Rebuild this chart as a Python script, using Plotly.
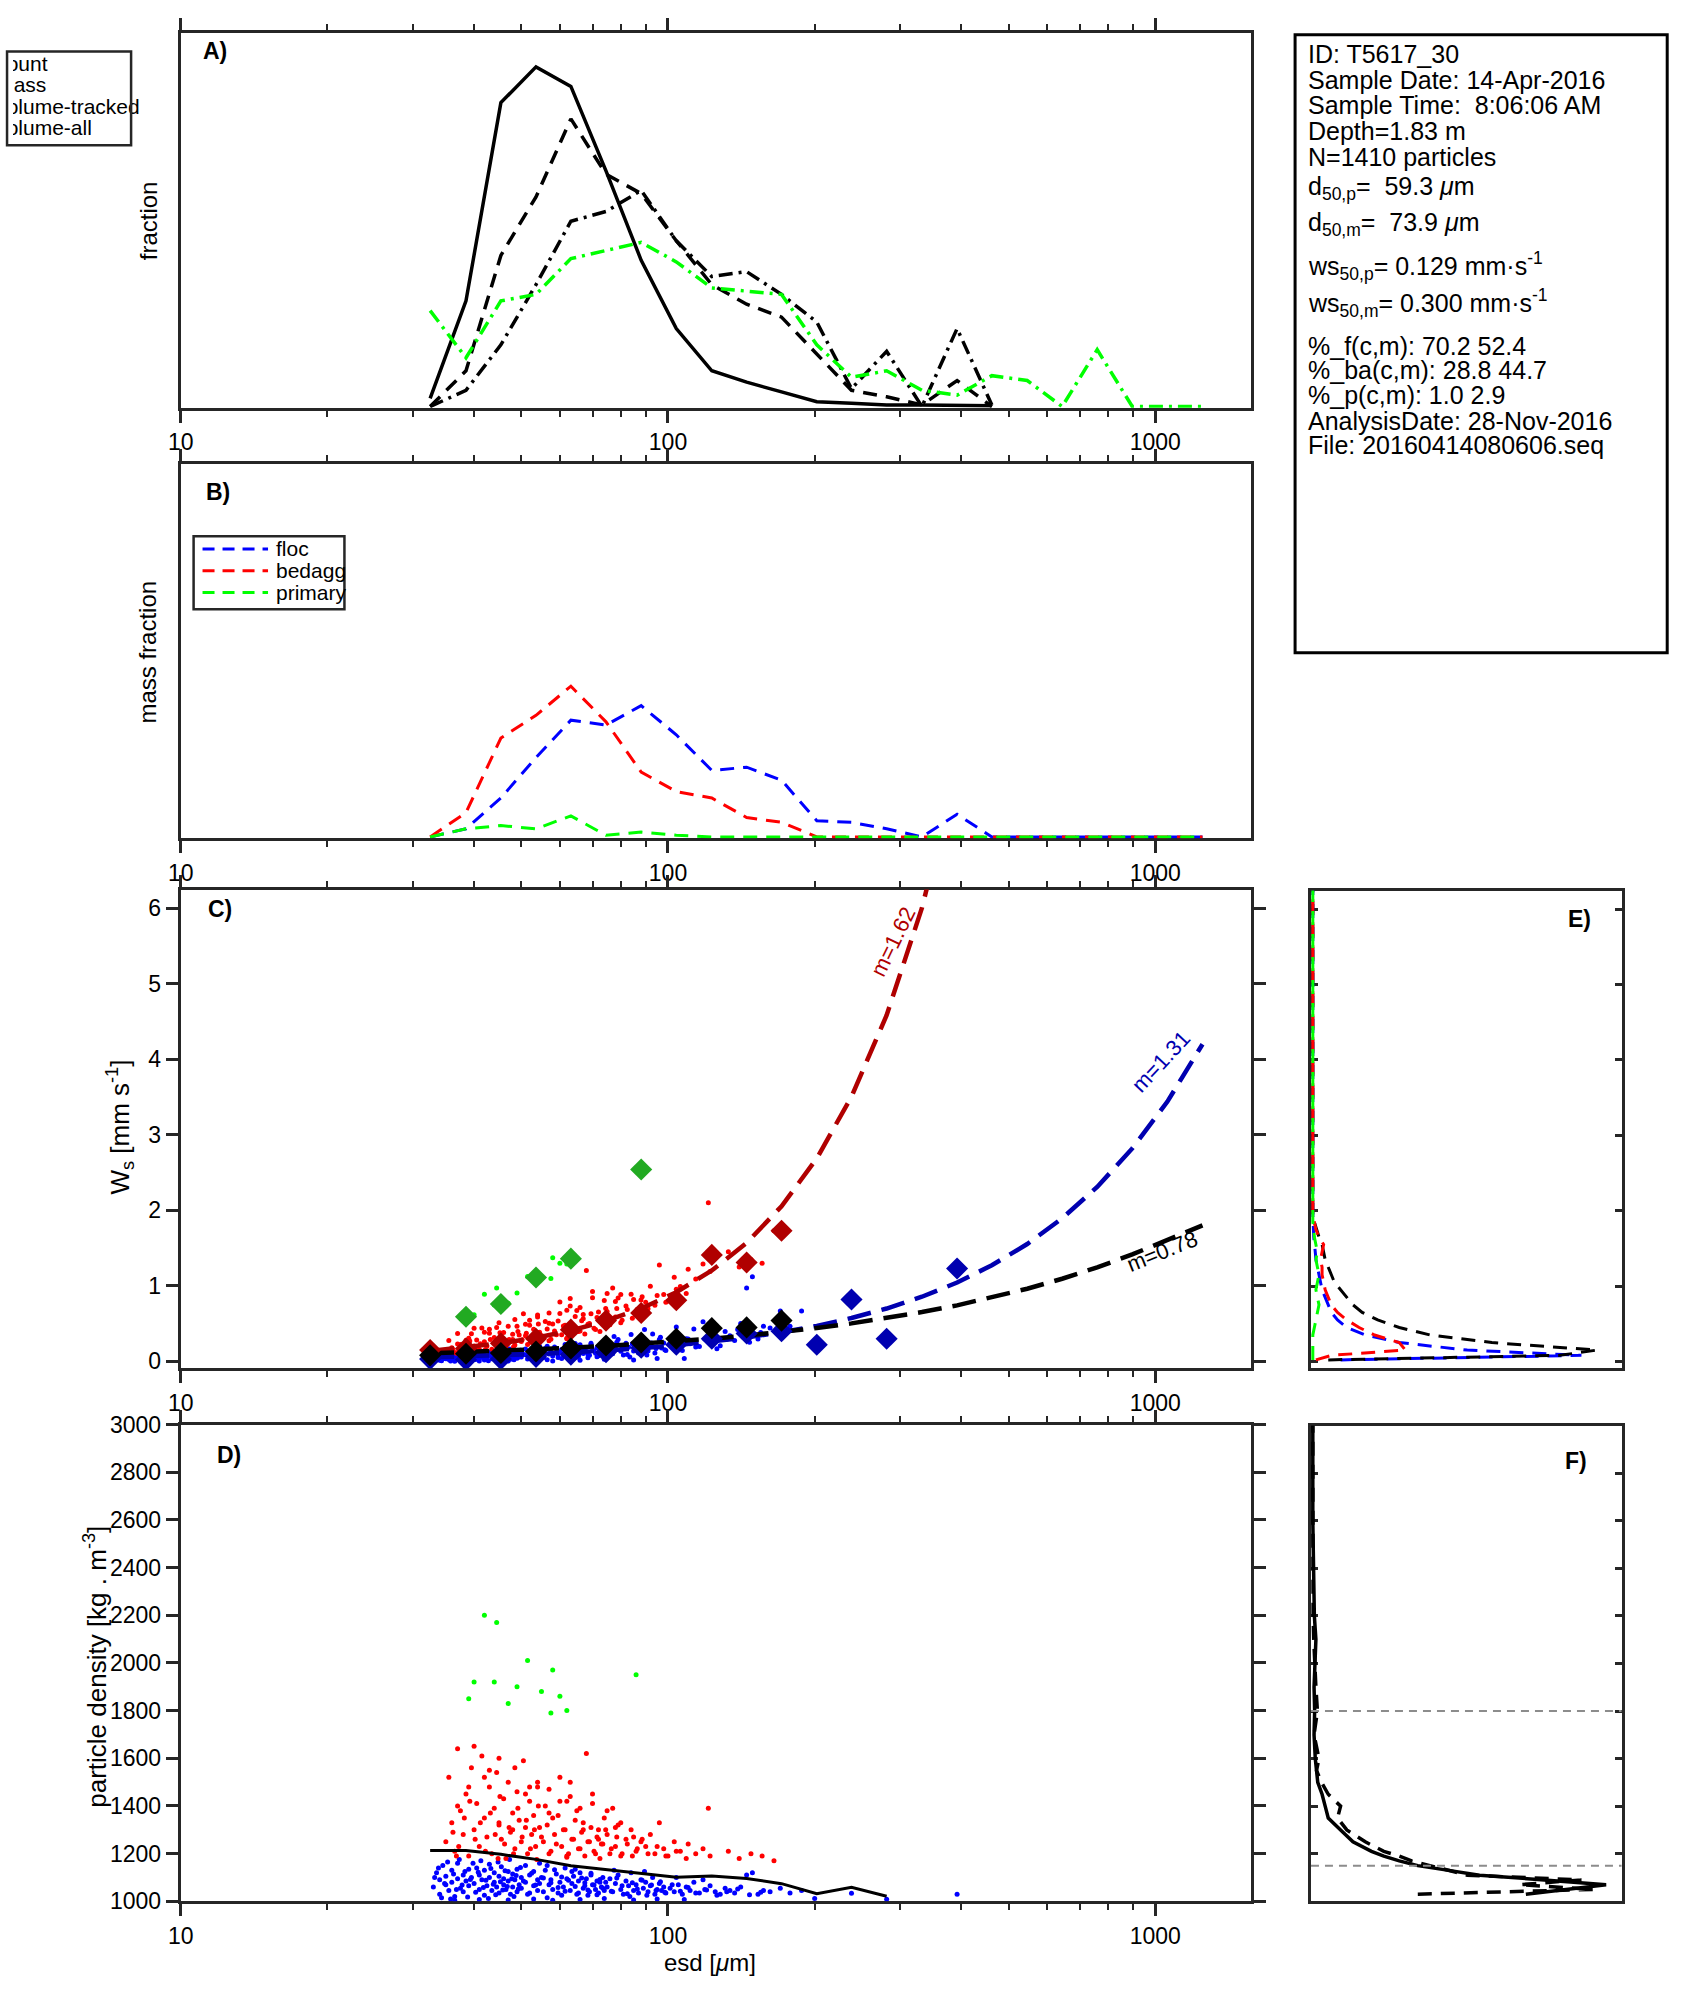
import plotly.graph_objects as go

W, H = 1694, 2015
AX = "#262626"
FONT = "Liberation Sans, Arial, Helvetica, sans-serif"

# ---------------- data ----------------
# size-bin centres (esd, um)
bin_esd = [32.5, 38.5, 45.4, 53.6, 63.2, 74.6, 88.1, 104, 123, 145, 171, 202, 238,
           281, 332, 392, 462, 546, 644, 760, 897, 1059, 1250]

# A) fractions
frac_count = [0.005, 0.065, 0.187, 0.209, 0.197, 0.145, 0.090, 0.048, 0.022, 0.015,
              0.009, 0.003, 0.002, 0.001, 0.001, 0.001, 0.0005]
frac_mass = [0, 0.022, 0.093, 0.129, 0.177, 0.143, 0.131, 0.102, 0.075, 0.063, 0.055,
             0.032, 0.010, 0.006, 0.001, 0.016, 0]
frac_vol_tracked = [0, 0.010, 0.038, 0.075, 0.114, 0.120, 0.133, 0.102, 0.080, 0.083,
                    0.069, 0.052, 0.011, 0.034, 0, 0.048, 0.001]
frac_vol_all = [0.059, 0.030, 0.065, 0.069, 0.091, 0.096, 0.101, 0.089, 0.073, 0.071,
                0.069, 0.038, 0.018, 0.022, 0.010, 0.007, 0.019, 0.016, 0, 0.035, 0, 0, 0]

# B) mass fraction per class
mass_floc = [0, 0.005, 0.024, 0.049, 0.072, 0.069, 0.081, 0.063, 0.041, 0.043, 0.035,
             0.010, 0.009, 0.005, 0, 0.014, 0, 0, 0, 0, 0, 0, 0]
mass_bedagg = [0, 0.015, 0.061, 0.075, 0.093, 0.071, 0.040, 0.028, 0.024, 0.012, 0.009,
               0, 0, 0, 0, 0, 0, 0, 0, 0, 0, 0, 0]
mass_primary = [0, 0.005, 0.007, 0.005, 0.013, 0.001, 0.003, 0.001, 0, 0, 0, 0, 0, 0,
                0, 0, 0, 0, 0, 0, 0, 0, 0]

# particles: floc (blue)
floc_esd = [33, 33.5, 34, 34, 34.5, 35, 35, 35.5, 36, 36, 36.5, 37, 37, 37.5, 38, 38, 38.5, 39, 39, 39.5,
            40, 40.5, 41, 41, 41.5, 42, 42, 42.5, 43, 43, 43.5, 44, 44, 44.5, 45, 45, 45.5, 46, 46, 46.5,
            47, 47, 47.5, 48, 48, 48.5, 49, 49, 49.5, 50, 50, 51, 51, 52, 52, 53, 53, 54, 54, 54.5,
            55, 55.5, 56, 57, 57.5, 58, 59, 59.5, 60, 61, 61.5, 62, 63, 63.5, 64, 65, 65.5, 66, 67, 67.5,
            68, 69, 69.5, 70, 71, 71.5, 72, 73, 73.5, 74, 56.5, 60.5, 64.5, 68.5, 72.5,
            75, 76, 77, 78, 79, 80, 81, 82, 83, 84, 85, 86, 87, 88, 89, 90, 91, 92, 93, 94,
            95, 96, 97, 98, 99, 77.5, 83.5, 89.5,
            101, 103, 105, 107, 109, 111, 113, 116, 119, 122, 125, 128, 131, 134, 137, 141, 145, 149,
            153, 157, 104, 118,
            162, 170, 178, 188, 200, 238, 281, 392,
            33.2, 33.8, 34.3, 34.8, 35.3, 35.8, 36.3, 36.8, 37.3, 37.8, 38.3, 38.8, 39.3, 39.8,
            40.3, 40.8, 41.3, 41.8, 42.3, 42.8, 43.3, 43.8, 44.3, 44.8, 45.3, 45.8, 46.3, 46.8,
            47.3, 47.8, 48.3, 48.8, 49.3, 49.8, 50.5, 51.5, 52.5, 53.5, 54.5, 55.5, 56.5, 57.5,
            58.5, 59.5, 60.5, 61.5, 62.5, 63.5, 64.5, 65.5, 66.5, 67.5, 68.5, 69.5, 70.5, 71.5,
            72.5, 73.5, 74.5, 76.5, 78.5, 80.5, 82.5, 84.5, 86.5, 88.5, 90.5, 92.5, 94.5, 96.5,
            98.5, 102, 106, 110, 114, 120, 126, 132, 139, 147, 155,
            36.5, 41, 47, 53, 58, 66, 74, 85, 95, 108]
floc_rho = [1060, 1120, 1030, 1090, 1150, 1070, 1105, 1045, 1130, 1080, 1020, 1095, 1160, 1055, 1110, 1040, 1085, 1135, 1065, 1100,
            1075, 1140, 1050, 1110, 1090, 1025, 1130, 1065, 1100, 1155, 1045, 1080, 1120, 1060, 1035, 1105, 1145, 1070, 1095, 1050,
            1125, 1085, 1030, 1060, 1115, 1090, 1040, 1135, 1070, 1100, 1055, 1080, 1150, 1035, 1110, 1065, 1125, 1045, 1090, 1075,
            1100, 1040, 1130, 1070, 1090, 1050, 1115, 1035, 1080, 1060, 1140, 1095, 1045, 1075, 1105, 1030, 1085, 1120, 1055, 1065,
            1095, 1040, 1110, 1070, 1050, 1085, 1035, 1060, 1100, 1045, 1150, 1025, 1135, 1025, 1080,
            1060, 1095, 1040, 1075, 1110, 1050, 1030, 1085, 1065, 1120, 1045, 1070, 1035, 1090, 1055, 1080, 1040, 1065, 1100, 1030,
            1050, 1075, 1045, 1060, 1035, 1130, 1020, 1125,
            1055, 1040, 1070, 1030, 1060, 1045, 1080, 1035, 1050, 1065, 1040, 1030, 1055, 1045, 1035, 1060, 1110, 1120,
            1030, 1045, 1100, 1090,
            1040, 1055, 1035, 1045, 1012, 1034, 1009, 1030,
            1100, 1140, 1015, 1075, 1165, 1010, 1115, 1050, 1175, 1068, 1125, 1018, 1092, 1160,
            1038, 1122, 1170, 1058, 1088, 1012, 1138, 1072, 1028, 1165, 1082, 1048, 1128, 1062,
            1175, 1095, 1020, 1108, 1052, 1142, 1085, 1030, 1118, 1068, 1160, 1098, 1015, 1078,
            1132, 1058, 1102, 1042, 1088, 1125, 1062, 1035, 1098, 1078, 1048, 1118, 1068, 1028,
            1092, 1055, 1080, 1042, 1098, 1065, 1032, 1078, 1052, 1088, 1025, 1068, 1045, 1082,
            1038, 1070, 1042, 1058, 1035, 1048, 1025, 1040, 1052, 1028, 1038,
            1005, 1008, 1006, 1010, 1004, 1008, 1012, 1006, 1010, 1008]
floc_ws = [0.027, 0.057, 0.015, 0.044, 0.075, 0.036, 0.054, 0.024, 0.071, 0.044, 0.011, 0.055, 0.092, 0.032, 0.067, 0.024, 0.053, 0.086, 0.042, 0.066,
           0.050, 0.096, 0.035, 0.078, 0.065, 0.019, 0.096, 0.049, 0.078, 0.120, 0.036, 0.065, 0.098, 0.050, 0.030, 0.089, 0.126, 0.062, 0.084, 0.045,
           0.116, 0.079, 0.028, 0.058, 0.111, 0.089, 0.040, 0.136, 0.072, 0.105, 0.058, 0.087, 0.164, 0.040, 0.125, 0.077, 0.148, 0.055, 0.110, 0.094,
           0.127, 0.052, 0.171, 0.096, 0.125, 0.071, 0.168, 0.052, 0.121, 0.094, 0.222, 0.153, 0.075, 0.127, 0.181, 0.053, 0.153, 0.220, 0.104, 0.124,
           0.184, 0.080, 0.223, 0.144, 0.106, 0.182, 0.076, 0.134, 0.227, 0.104, 0.201, 0.038, 0.236, 0.049, 0.177,
           0.142, 0.230, 0.100, 0.192, 0.288, 0.134, 0.083, 0.240, 0.188, 0.356, 0.137, 0.217, 0.111, 0.293, 0.183, 0.272, 0.139, 0.231, 0.363, 0.111,
           0.190, 0.290, 0.178, 0.242, 0.144, 0.328, 0.059, 0.421,
           0.236, 0.178, 0.324, 0.144, 0.299, 0.233, 0.429, 0.198, 0.297, 0.406, 0.263, 0.206, 0.396, 0.339, 0.276, 0.501, 0.970, 1.120,
           0.295, 0.466, 0.454, 0.526,
           0.441, 0.668, 0.466, 0.668, 0.200, 0.820, 0.300, 1.230,
           0.046, 0.067, 0.007, 0.038, 0.086, 0.005, 0.064, 0.028, 0.102, 0.041, 0.077, 0.011, 0.060, 0.106,
           0.026, 0.085, 0.122, 0.043, 0.066, 0.009, 0.109, 0.058, 0.023, 0.139, 0.071, 0.042, 0.115, 0.057,
           0.164, 0.091, 0.020, 0.108, 0.053, 0.148, 0.091, 0.033, 0.137, 0.082, 0.200, 0.127, 0.020, 0.108,
           0.190, 0.086, 0.157, 0.067, 0.144, 0.212, 0.108, 0.063, 0.182, 0.149, 0.095, 0.239, 0.142, 0.060,
           0.203, 0.125, 0.186, 0.103, 0.254, 0.177, 0.091, 0.234, 0.163, 0.290, 0.086, 0.244, 0.169, 0.321,
           0.155, 0.306, 0.198, 0.295, 0.191, 0.290, 0.167, 0.293, 0.422, 0.254, 0.383,
           0.003, 0.006, 0.006, 0.012, 0.006, 0.015, 0.028, 0.018, 0.038, 0.039]

# particles: bed aggregates (red)
bedagg_esd = [35, 35.5, 36, 36.5, 37, 37.5, 38, 38.5, 39, 39.5,
              40, 40.5, 41, 41.5, 42, 42.5, 43, 43.5, 44, 44.5,
              45, 45.5, 46, 46.5, 47, 47.5, 48, 48.5, 49, 49.5,
              50, 50.5, 51, 51.5, 52, 52.5, 53, 53.5, 54, 54.5,
              55, 56, 57, 58, 59, 60, 61, 62, 63, 64,
              65, 66, 67, 68, 69, 70, 71, 72, 73, 74,
              75, 76, 77, 78, 79, 80, 82, 84, 86, 88,
              90, 92, 94, 96, 98, 100, 103, 106, 110, 114,
              118, 122, 121, 133, 140, 148, 156, 165, 37, 43,
              48, 52, 57, 62, 67, 72, 78, 85, 40, 45,
              36.2, 37.2, 38.2, 39.2, 40.2, 41.2, 42.2, 43.2, 44.2, 45.2,
              46.2, 47.2, 48.2, 49.2, 50.2, 51.2, 52.2, 53.2, 54.2, 55.5,
              56.5, 57.5, 58.5, 59.5, 60.5, 61.5, 62.5, 63.5, 64.5, 65.5,
              66.5, 67.5, 68.5, 69.5, 70.5, 71.5, 72.5, 73.5, 74.5, 76.5,
              78.5, 80.5, 82.5, 84.5, 86.5, 88.5, 91, 95, 99, 104,
              109, 39, 42, 45, 48.5, 51, 54, 57, 60, 63,
              66, 70, 75, 80, 36.8, 44.8, 53.8, 62]
bedagg_rho = [1250, 1520, 1330, 1210, 1640, 1380, 1280, 1450, 1190, 1560,
              1300, 1410, 1230, 1610, 1350, 1270, 1480, 1200, 1390, 1540,
              1320, 1260, 1430, 1180, 1500, 1290, 1370, 1220, 1460, 1340,
              1250, 1590, 1310, 1200, 1420, 1280, 1360, 1230, 1480, 1310,
              1270, 1400, 1200, 1350, 1240, 1520, 1300, 1190, 1440, 1260,
              1380, 1220, 1330, 1620, 1250, 1410, 1200, 1300, 1240, 1350,
              1280, 1200, 1390, 1230, 1320, 1190, 1260, 1300, 1210, 1250,
              1230, 1280, 1200, 1330, 1220, 1190, 1250, 1210, 1240, 1200,
              1220, 1190, 1390, 1210, 1180, 1200, 1190, 1170, 1400, 1550,
              1300, 1480, 1370, 1420, 1300, 1260, 1310, 1270, 1650, 1330,
              1290, 1230, 1350, 1420, 1260, 1330, 1210, 1370, 1280, 1440,
              1240, 1310, 1200, 1390, 1270, 1340, 1220, 1300, 1400, 1250,
              1320, 1210, 1280, 1360, 1230, 1300, 1200, 1260, 1340, 1220,
              1290, 1190, 1250, 1310, 1210, 1270, 1180, 1240, 1300, 1220,
              1270, 1200, 1240, 1190, 1220, 1260, 1200, 1230, 1190, 1210,
              1180, 1480, 1520, 1600, 1560, 1450, 1500, 1470, 1420, 1500,
              1390, 1450, 1380, 1330, 1190, 1180, 1175, 1185]
bedagg_ws = [0.129, 0.275, 0.180, 0.117, 0.368, 0.224, 0.170, 0.280, 0.121, 0.367,
             0.202, 0.282, 0.162, 0.441, 0.259, 0.205, 0.373, 0.159, 0.317, 0.449,
             0.272, 0.226, 0.382, 0.163, 0.464, 0.275, 0.358, 0.217, 0.464, 0.350,
             0.263, 0.632, 0.339, 0.223, 0.477, 0.324, 0.425, 0.276, 0.588, 0.387,
             0.343, 0.527, 0.273, 0.495, 0.351, 0.786, 0.469, 0.307, 0.733, 0.447,
             0.675, 0.403, 0.622, 1.204, 0.500, 0.844, 0.423, 0.653, 0.537, 0.805,
             0.662, 0.485, 0.971, 0.588, 0.839, 0.511, 0.734, 0.889, 0.652, 0.813,
             0.782, 0.995, 0.742, 1.277, 0.887, 0.798, 1.114, 0.991, 1.220, 1.092,
             1.290, 1.190, 2.100, 1.450, 1.250, 1.350, 1.300, 1.730, 0.230, 0.427,
             0.290, 0.545, 0.505, 0.678, 0.566, 0.566, 0.792, 0.819, 0.437, 0.281,
             0.160, 0.134, 0.215, 0.271, 0.177, 0.235, 0.157, 0.290, 0.230, 0.378,
             0.215, 0.290, 0.195, 0.397, 0.286, 0.374, 0.252, 0.357, 0.494, 0.324,
             0.429, 0.292, 0.402, 0.535, 0.354, 0.477, 0.328, 0.440, 0.594, 0.396,
             0.539, 0.364, 0.493, 0.629, 0.438, 0.580, 0.397, 0.545, 0.699, 0.541,
             0.699, 0.544, 0.686, 0.570, 0.691, 0.855, 0.696, 0.872, 0.782, 0.954,
             0.898, 0.307, 0.385, 0.510, 0.553, 0.491, 0.613, 0.642, 0.635, 0.834,
             0.714, 0.926, 0.898, 0.887, 0.108, 0.152, 0.213, 0.299]

# particles: primary (green)
primary_esd = [42, 44.5, 51.5, 40, 44, 58, 60, 62, 57.5, 86, 49, 47, 39, 55]
primary_rho = [2200, 2170, 2010, 1920, 1920, 1970, 1860, 1800, 1790, 1950, 1900, 1830, 1850, 1880]
primary_ws = [0.889, 0.973, 1.125, 0.618, 0.748, 1.371, 1.300, 1.291, 1.097, 2.540, 0.907, 0.770, 0.543, 1.118]

# C) bin medians (diamonds)
med_ws_bedagg = [0.15, 0.17, 0.24, 0.30, 0.42, 0.54, 0.64, 0.81, 1.41, 1.31, 1.73]
med_ws_primary = [None, 0.59, 0.76, 1.11, 1.36, None, 2.54]
med_ws_floc = [0.03, 0.02, 0.03, 0.06, 0.09, 0.12, 0.18, 0.22, 0.30, 0.37, 0.40, 0.22, 0.82, 0.30, None, 1.23]
med_ws_all = [0.08, 0.10, 0.11, 0.13, 0.17, 0.21, 0.25, 0.30, 0.44, 0.45, 0.54]

# C) fitted settling-velocity curves
fit_bedagg = [0.139, 0.184, 0.240, 0.313, 0.409, 0.535, 0.700, 0.916, 1.203, 1.569, 2.054,
              2.688, 3.505, 4.584, 6.004, 7.870]
fit_floc = [0.053, 0.065, 0.079, 0.096, 0.117, 0.143, 0.174, 0.213, 0.260, 0.317, 0.386, 0.470,
            0.574, 0.700, 0.856, 1.044, 1.273, 1.554, 1.894, 2.310, 2.820, 3.440, 4.200]
fit_all = [0.106, 0.122, 0.138, 0.157, 0.179, 0.204, 0.232, 0.264, 0.301, 0.342, 0.389, 0.443,
           0.503, 0.572, 0.653, 0.742, 0.844, 0.962, 1.094, 1.245, 1.416, 1.613, 1.800]
fit_labels = ["m=1.62", "m=1.31", "m=0.78"]

# D) median density per size bin
dens_median = [1213, 1213, 1197, 1176, 1149, 1133, 1117, 1101, 1106, 1096, 1074, 1032, 1059, 1021]

# E) settling velocity distributions
ws_bins = [0.02, 0.08, 0.15, 0.25, 0.35, 0.45, 0.55, 0.65, 0.75, 0.85, 0.95, 1.05, 1.15, 1.25,
           1.35, 1.45, 1.55, 1.65, 1.75, 1.85, 1.95, 2.5, 3.5, 4.5, 5.5, 6.3]
e_all = [0.05, 0.80, 0.92, 0.58, 0.38, 0.28, 0.21, 0.16, 0.13, 0.11, 0.09, 0.07, 0.06, 0.05,
         0.04, 0.035, 0.03, 0.02, 0.012, 0.005, 0, 0, 0, 0, 0, 0]
e_floc = [0.09, 0.87, 0.50, 0.28, 0.17, 0.11, 0.08, 0.06, 0.05, 0.04, 0.03, 0.025, 0.02, 0.015,
          0.01, 0.008, 0.005, 0.003, 0.002, 0, 0, 0, 0, 0, 0, 0]
e_bedagg = [0.01, 0.06, 0.30, 0.28, 0.20, 0.15, 0.11, 0.08, 0.06, 0.05, 0.04, 0.035, 0.03, 0.03,
            0.025, 0.03, 0.035, 0.02, 0.01, 0.005, 0, 0, 0, 0, 0, 0]
e_primary = [0, 0, 0, 0, 0, 0.005, 0.01, 0.015, 0.02, 0.015, 0.01, 0.015, 0.02, 0.015, 0.01,
             0.015, 0.01, 0.005, 0.003, 0, 0, 0, 0, 0, 0, 0]

# F) density distributions
rho_bins = [1030, 1050, 1070, 1090, 1110, 1130, 1150, 1170, 1190, 1210, 1250, 1300, 1350, 1400,
            1450, 1500, 1550, 1600, 1700, 1800, 1900, 2000, 2100, 2200, 2400, 2600, 2800, 3000]
f_count = [0.69, 0.81, 0.95, 0.75, 0.54, 0.44, 0.34, 0.28, 0.23, 0.19, 0.13, 0.09, 0.05, 0.04,
           0.03, 0.016, 0.012, 0.008, 0.004, 0.006, 0.004, 0.008, 0.01, 0.005, 0.002, 0, 0, 0]
f_mass = [0.34, 0.91, 0.67, 0.87, 0.50, 0.44, 0.38, 0.32, 0.28, 0.23, 0.17, 0.11, 0.08, 0.09,
          0.05, 0.028, 0.012, 0.02, 0.004, 0.015, 0.01, 0.006, 0.003, 0.001, 0, 0, 0, 0]
f_ref_lines = [1150, 1800]

info_lines = [
    "ID: T5617_30",
    "Sample Date: 14-Apr-2016",
    "Sample Time:\u00a0 8:06:06 AM",
    "Depth=1.83 m",
    "N=1410 particles",
    "d<sub>50,p</sub>=\u00a0 59.3 <i>\u03bc</i>m",
    "d<sub>50,m</sub>=\u00a0 73.9 <i>\u03bc</i>m",
    "ws<sub>50,p</sub>= 0.129 mm\u00b7s<sup>-1</sup>",
    "ws<sub>50,m</sub>= 0.300 mm\u00b7s<sup>-1</sup>",
    "%_f(c,m): 70.2 52.4",
    "%_ba(c,m): 28.8 44.7",
    "%_p(c,m): 1.0 2.9",
    "AnalysisDate: 28-Nov-2016",
    "File: 20160414080606.seq",
]
legA_labels = ["count", "mass", "volume-tracked", "volume-all"]
legB_labels = ["floc", "bedagg", "primary"]

# ---------------- styling helpers ----------------
BLUE, RED, GREEN = "#0000ff", "#ff0000", "#00ff00"
DRED, DBLUE, DGREEN = "#b00000", "#0000b0", "#22aa22"
DASH = "14px,9px"
DASHDOT = "14px,6px,3px,6px"
FITDASH = "24px,11px"


def px(x):
    return x / W


def py(y):
    return 1 - y / H


fig = go.Figure()


def line(x, y, ax, color, width=3.5, dash="solid", mode="lines"):
    fig.add_trace(go.Scatter(x=x, y=y, mode=mode, xaxis="x" + ax, yaxis="y" + ax,
                             line=dict(color=color, width=width, dash=dash),
                             showlegend=False, hoverinfo="skip"))


def dots(x, y, ax, color, size=5):
    fig.add_trace(go.Scatter(x=x, y=y, mode="markers", xaxis="x" + ax, yaxis="y" + ax,
                             marker=dict(color=color, size=size, line=dict(width=0)),
                             showlegend=False, hoverinfo="skip"))


def diamonds(x, y, ax, color):
    fig.add_trace(go.Scatter(x=x, y=y, mode="markers", xaxis="x" + ax, yaxis="y" + ax,
                             marker=dict(color=color, size=17, symbol="diamond",
                                         line=dict(width=0)),
                             showlegend=False, hoverinfo="skip"))


# A
line(bin_esd[:len(frac_count)], frac_count, "", "black")
line(bin_esd[:len(frac_mass)], frac_mass, "", "black", dash=DASH)
line(bin_esd[:len(frac_vol_tracked)], frac_vol_tracked, "", "black", dash=DASHDOT)
line(bin_esd[:len(frac_vol_all)], frac_vol_all, "", GREEN, dash=DASHDOT)

# B
line(bin_esd, mass_floc, "2", BLUE, width=3, dash=DASH)
line(bin_esd, mass_bedagg, "2", RED, width=3, dash=DASH)
line(bin_esd, mass_primary, "2", GREEN, width=3, dash=DASH)

# C
dots(floc_esd, floc_ws, "3", BLUE)
dots(bedagg_esd, bedagg_ws, "3", RED)
dots(primary_esd, primary_ws, "3", GREEN)
line(bin_esd[:len(fit_bedagg)], fit_bedagg, "3", DRED, width=4.5, dash=FITDASH)
line(bin_esd[:len(fit_floc)], fit_floc, "3", DBLUE, width=4.5, dash=FITDASH)
line(bin_esd[:len(fit_all)], fit_all, "3", "black", width=4.5, dash=FITDASH)
diamonds(bin_esd[:len(med_ws_bedagg)], med_ws_bedagg, "3", DRED)
diamonds(bin_esd[:len(med_ws_floc)], med_ws_floc, "3", DBLUE)
diamonds(bin_esd[:len(med_ws_primary)], med_ws_primary, "3", DGREEN)
diamonds(bin_esd[:len(med_ws_all)], med_ws_all, "3", "black")

# D
dots(floc_esd, floc_rho, "4", BLUE)
dots(bedagg_esd, bedagg_rho, "4", RED)
dots(primary_esd, primary_rho, "4", GREEN)
line(bin_esd[:len(dens_median)], dens_median, "4", "black", width=3)

# E
line(e_floc, ws_bins, "5", BLUE, width=3, dash=DASH)
line(e_all, ws_bins, "5", "black", width=3, dash=DASH)
line(e_bedagg, ws_bins, "5", RED, width=3, dash=DASH)
line(e_primary, ws_bins, "5", GREEN, width=3, dash=DASH)

# F
line(f_count, rho_bins, "6", "black", width=3.5)
line(f_mass, rho_bins, "6", "black", width=3.5, dash=DASH)

# legend A text, clipped by a hidden subplot whose left edge is the page edge
fig.add_trace(go.Scatter(x=[-17] * len(legA_labels), y=[53, 75, 97, 118], text=legA_labels,
                         mode="text", textposition="middle right", cliponaxis=True,
                         xaxis="x7", yaxis="y7", showlegend=False, hoverinfo="skip",
                         textfont=dict(family=FONT, size=21, color="black")))

# ---------------- axes ----------------
XR = [1, 3.1973]
tickfont = dict(family=FONT, size=23, color="black")


def xlog(dom, labels=True):
    return dict(type="log", range=XR, domain=dom, showline=True, linewidth=3, linecolor=AX,
                mirror="allticks", ticks="outside", ticklen=12, tickwidth=2.5, tickcolor=AX,
                tickvals=[10, 100, 1000], ticktext=["10", "100", "1000"],
                showticklabels=labels, tickfont=tickfont, showgrid=False, zeroline=False,
                minor=dict(dtick="D1", ticks="outside", ticklen=6, tickwidth=2,
                           tickcolor=AX, showgrid=False),
                layer="below traces")


def yplain(dom, rng, anchor):
    return dict(domain=dom, range=rng, showline=True, linewidth=3, linecolor=AX,
                mirror=True, ticks="", showticklabels=False, showgrid=False,
                zeroline=False, anchor=anchor, layer="below traces")


xdomL = [px(169), px(1248)]
xdomR = [px(1308), px(1621)]
ydA = [py(400), py(20)]
ydB = [py(836), py(457)]
ydC = [py(1373), py(888)]
ydD = [py(1913), py(1430)]
ydE = [py(1373), py(889)]
ydF = [py(1913), py(1431)]

C_RANGE = [-0.0915, 6.248]
hidden = dict(visible=False, showgrid=False, zeroline=False)

layout = dict(
    width=W, height=H, margin=dict(l=0, r=0, t=0, b=0),
    paper_bgcolor="white", plot_bgcolor="white", showlegend=False,
    font=dict(family=FONT, color="black"),
    xaxis=dict(xlog(xdomL), anchor="y"),
    yaxis=yplain(ydA, [-0.0008, 0.23], "x"),
    xaxis2=dict(xlog(xdomL), anchor="y2"),
    yaxis2=yplain(ydB, [-0.0008, 0.23], "x2"),
    xaxis3=dict(xlog(xdomL), anchor="y3"),
    yaxis3=dict(domain=ydC, range=C_RANGE, anchor="x3", showline=True, linewidth=3,
                linecolor=AX, mirror="allticks", ticks="outside", ticklen=12,
                tickwidth=2.5, tickcolor=AX, tickvals=[0, 1, 2, 3, 4, 5, 6],
                tickfont=tickfont, showgrid=False, zeroline=False),
    xaxis4=dict(xlog(xdomL), anchor="y4"),
    yaxis4=dict(domain=ydD, range=[1000, 3000], anchor="x4", showline=True, linewidth=3,
                linecolor=AX, mirror="allticks", ticks="outside", ticklen=12,
                tickwidth=2.5, tickcolor=AX, tickvals=list(range(1000, 3001, 200)),
                tickfont=tickfont, showgrid=False, zeroline=False),
    xaxis5=dict(domain=xdomR, range=[-0.006, 1.0], anchor="y5", showline=True, linewidth=3,
                linecolor=AX, mirror=True, ticks="", showticklabels=False,
                showgrid=False, zeroline=False, layer="below traces"),
    yaxis5=dict(domain=ydE, range=C_RANGE, anchor="x5", showline=True, linewidth=3,
                linecolor=AX, mirror="allticks", ticks="inside", ticklen=7,
                tickwidth=2.5, tickcolor=AX, tickvals=[0, 1, 2, 3, 4, 5, 6],
                showticklabels=False, showgrid=False, zeroline=False, layer="below traces"),
    xaxis6=dict(domain=xdomR, range=[-0.006, 1.0], anchor="y6", showline=True, linewidth=3,
                linecolor=AX, mirror=True, ticks="", showticklabels=False,
                showgrid=False, zeroline=False, layer="below traces"),
    yaxis6=dict(domain=ydF, range=[1000, 3000], anchor="x6", showline=True, linewidth=3,
                linecolor=AX, mirror="allticks", ticks="inside", ticklen=7,
                tickwidth=2.5, tickcolor=AX, tickvals=list(range(1000, 3001, 200)),
                showticklabels=False, showgrid=False, zeroline=False, layer="below traces"),
    xaxis7=dict(hidden, domain=[0, px(140)], range=[0, 140], anchor="y7"),
    yaxis7=dict(hidden, domain=[py(140), py(30)], range=[140, 30], anchor="x7"),
)
fig.update_layout(**layout)

# ---------------- shapes & annotations ----------------
shapes = []
annots = []


def txt(x, y, s, size=23, xanchor="left", yanchor="middle", color="black", angle=0,
        bold=False, ref=("paper", "paper")):
    if bold:
        s = "<b>" + s + "</b>"
    annots.append(dict(x=x, y=y, xref=ref[0], yref=ref[1], text=s, showarrow=False,
                       xanchor=xanchor, yanchor=yanchor, textangle=angle,
                       font=dict(family=FONT, size=size, color=color)))


# F reference lines
for v in f_ref_lines:
    shapes.append(dict(type="line", xref="x6 domain", yref="y6", x0=0, x1=1, y0=v, y1=v,
                       line=dict(color="#8c8c8c", width=2, dash="8px,6px")))

# info box
shapes.append(dict(type="rect", xref="paper", yref="paper", x0=px(1292), x1=px(1667),
                   y0=py(648), y1=py(22), line=dict(color="black", width=3)))
info_y = [42, 68, 93, 120, 146, 177, 214, 256, 294, 337, 362, 387, 413, 438]
for s, yy in zip(info_lines, info_y):
    txt(px(1303), py(yy), s, size=25)

# legend A box (text drawn by the clipped text trace above)
shapes.append(dict(type="rect", xref="paper", yref="paper", x0=px(-6), x1=px(119),
                   y0=py(134), y1=py(39), line=dict(color=AX, width=2.5)))

# legend B
shapes.append(dict(type="rect", xref="paper", yref="paper", x0=px(182), x1=px(334),
                   y0=py(604), y1=py(530), line=dict(color=AX, width=2.5)))
for s, yy, c in zip(legB_labels, [543, 565, 587], [BLUE, RED, GREEN]):
    shapes.append(dict(type="line", xref="paper", yref="paper", x0=px(191), x1=px(257),
                       y0=py(yy), y1=py(yy), line=dict(color=c, width=3, dash="12px,8px")))
    txt(px(263), py(yy), s, size=21)

# panel letters
txt(px(189), py(38), "A)", bold=True)
txt(px(192), py(485), "B)", bold=True)
txt(px(194), py(908), "C)", bold=True)
txt(px(204), py(1461), "D)", bold=True)
txt(px(1565), py(918), "E)", bold=True)
txt(px(1562), py(1467), "F)", bold=True)

# axis titles
txt(px(136), py(210), "fraction", size=24, xanchor="center", angle=-90)
txt(px(136), py(647), "mass fraction", size=24, xanchor="center", angle=-90)
txt(px(108), py(1129), "W<sub>s</sub> [mm s<sup>-1</sup>]", size=26, xanchor="center",
    angle=-90)
txt(px(83), py(1675), "particle density [kg . m<sup>-3</sup>]", size=26,
    xanchor="center", angle=-90)
txt(px(702), py(1975), "esd [<i>\u03bc</i>m]", size=24, xanchor="center")

# fit labels (rotated along curves)
txt(2.462, 5.56, fit_labels[0], size=22, xanchor="center", color=DRED, angle=-64,
    ref=("x3", "y3"))
txt(3.012, 3.97, fit_labels[1], size=22, xanchor="center", color=DBLUE, angle=-47,
    ref=("x3", "y3"))
txt(3.014, 1.46, fit_labels[2], size=22, xanchor="center", color="black", angle=-22,
    ref=("x3", "y3"))

fig.update_layout(shapes=shapes, annotations=annots)

fig.write_html("out.html", config={"displayModeBar": False},
               post_script="document.body.style.margin='0px';")
